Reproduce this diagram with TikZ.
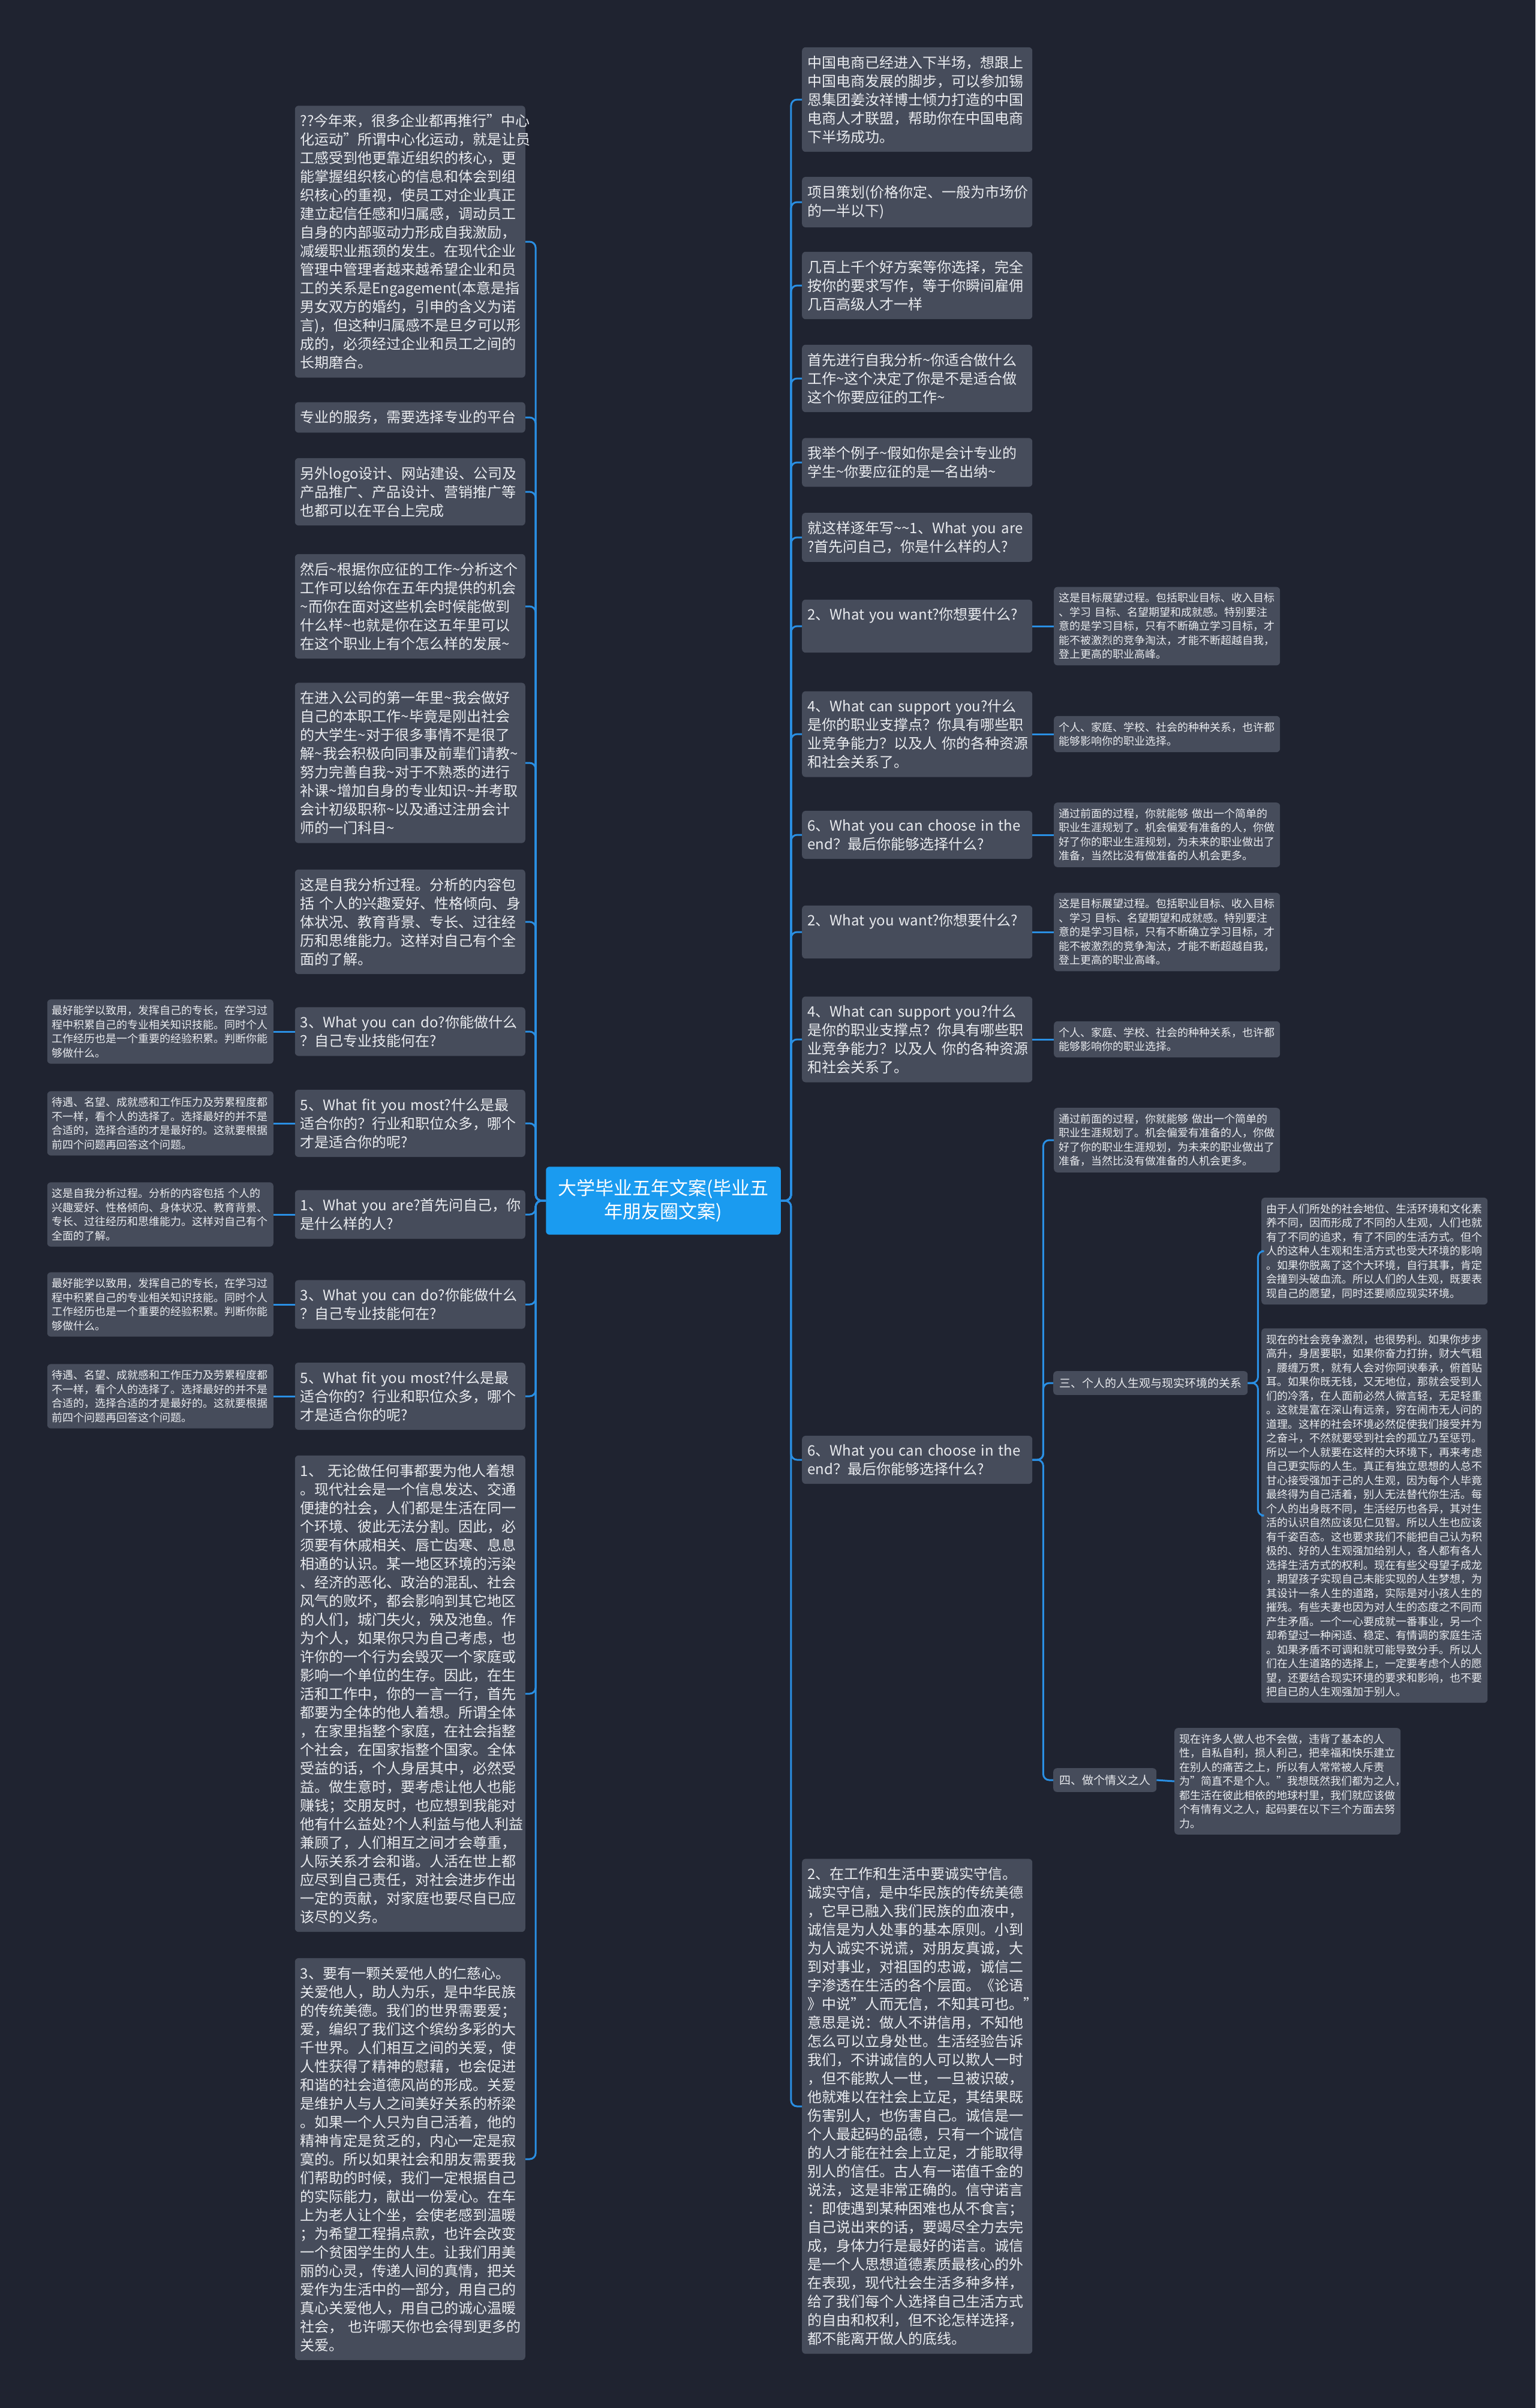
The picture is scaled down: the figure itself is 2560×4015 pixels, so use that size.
\documentclass[tikz,border=0pt]{standalone}
\usepackage{fontspec}
\setmainfont{Noto Sans CJK SC}
\definecolor{pagebg}{HTML}{1F2330}
\definecolor{cardgray}{HTML}{464C5B}
\definecolor{cardtext}{HTML}{E9EBEF}
\definecolor{rootblue}{HTML}{1A9BF0}
\definecolor{linkblue}{HTML}{2A8FE3}
\newcommand{\wavy}{\textasciitilde}
\hyphenpenalty=10000
\exhyphenpenalty=10000

\begin{document}
\begin{tikzpicture}[x=1pt, y=-1pt,
    card/.style={rectangle, rounded corners=6pt, fill=cardgray, text=cardtext, align=left},
    bigcard/.style={card, font=\fontsize{24}{31}\selectfont, text width=366pt, inner xsep=9pt, inner ysep=14pt},
    smallcard/.style={card, font=\fontsize{18}{23.5}\selectfont, text width=361pt, inner xsep=8pt, inner ysep=10pt},
    tagcard/.style={card, font=\fontsize{19}{23}\selectfont, inner xsep=10pt, inner ysep=11pt},
    rootcard/.style={rectangle, rounded corners=6pt, fill=rootblue, text=white, align=center,
        font=\fontsize{31}{39}\selectfont, inner xsep=20pt, inner ysep=21pt},
    link/.style={draw=linkblue, line width=3pt, rounded corners=10pt}]

    % Page
    \useasboundingbox (0,0) rectangle (2560,4015);
    \fill[pagebg] (0,0) rectangle (2560,4015);

    % Root
    \node[rootcard] (root) at (1106,2002) {大学毕业五年文案(毕业五\\年朋友圈文案)};

    % Left branch
    \node[bigcard, anchor=east] (l1) at (876,403) {??今年来，很多企业都再推行"中心\\化运动"所谓中心化运动，就是让员\\工感受到他更靠近组织的核心，更\\能掌握组织核心的信息和体会到组\\织核心的重视，使员工对企业真正\\建立起信任感和归属感，调动员工\\自身的内部驱动力形成自我激励，\\减缓职业瓶颈的发生。在现代企业\\管理中管理者越来越希望企业和员\\工的关系是Engagement(本意是指\\男女双方的婚约，引申的含义为诺\\言)，但这种归属感不是旦夕可以形\\成的，必须经过企业和员工之间的\\长期磨合。};
    \node[bigcard, anchor=east] (l2) at (876,696) {专业的服务，需要选择专业的平台};
    \node[bigcard, anchor=east] (l3) at (876,820) {另外logo设计、网站建设、公司及\\产品推广、产品设计、营销推广等\\也都可以在平台上完成};
    \node[bigcard, anchor=east] (l4) at (876,1011) {然后\wavy{}根据你应征的工作\wavy{}分析这个\\工作可以给你在五年内提供的机会\\\wavy{}而你在面对这些机会时候能做到\\什么样\wavy{}也就是你在这五年里可以\\在这个职业上有个怎么样的发展\wavy{}};
    \node[bigcard, anchor=east] (l5) at (876,1272) {在进入公司的第一年里\wavy{}我会做好\\自己的本职工作\wavy{}毕竟是刚出社会\\的大学生\wavy{}对于很多事情不是很了\\解\wavy{}我会积极向同事及前辈们请教\wavy{}\\努力完善自我\wavy{}对于不熟悉的进行\\补课\wavy{}增加自身的专业知识\wavy{}并考取\\会计初级职称\wavy{}以及通过注册会计\\师的一门科目\wavy{}};
    \node[bigcard, anchor=east] (l6) at (876,1537) {这是自我分析过程。分析的内容包\\括~个人的兴趣爱好、性格倾向、身\\体状况、教育背景、专长、过往经\\历和思维能力。这样对自己有个全\\面的了解。};
    \node[bigcard, anchor=east] (l7) at (876,1720) {3、What~you~can~do?你能做什么\\？自己专业技能何在?};
    \node[bigcard, anchor=east] (l8) at (876,1873) {5、What~fit~you~most?什么是最\\适合你的？行业和职位众多，哪个\\才是适合你的呢?};
    \node[bigcard, anchor=east] (l9) at (876,2025) {1、What~you~are?首先问自己，你\\是什么样的人?};
    \node[bigcard, anchor=east] (l10) at (876,2175) {3、What~you~can~do?你能做什么\\？自己专业技能何在?};
    \node[bigcard, anchor=east] (l11) at (876,2328) {5、What~fit~you~most?什么是最\\适合你的？行业和职位众多，哪个\\才是适合你的呢?};
    \node[bigcard, anchor=east] (l12) at (876,2824) {1、~无论做任何事都要为他人着想\\。现代社会是一个信息发达、交通\\便捷的社会，人们都是生活在同一\\个环境、彼此无法分割。因此，必\\须要有休戚相关、唇亡齿寒、息息\\相通的认识。某一地区环境的污染\\、经济的恶化、政治的混乱、社会\\风气的败坏，都会影响到其它地区\\的人们，城门失火，殃及池鱼。作\\为个人，如果你只为自己考虑，也\\许你的一个行为会毁灭一个家庭或\\影响一个单位的生存。因此，在生\\活和工作中，你的一言一行，首先\\都要为全体的他人着想。所谓全体\\，在家里指整个家庭，在社会指整\\个社会，在国家指整个国家。全体\\受益的话，个人身居其中，必然受\\益。做生意时，要考虑让他人也能\\赚钱；交朋友时，也应想到我能对\\他有什么益处?个人利益与他人利益\\兼顾了，人们相互之间才会尊重，\\人际关系才会和谐。人活在世上都\\应尽到自己责任，对社会进步作出\\一定的贡献，对家庭也要尽自已应\\该尽的义务。};
    \node[bigcard, anchor=east] (l13) at (876,3600) {3、要有一颗关爱他人的仁慈心。\\关爱他人，助人为乐，是中华民族\\的传统美德。我们的世界需要爱；\\爱，编织了我们这个缤纷多彩的大\\千世界。人们相互之间的关爱，使\\人性获得了精神的慰藉，也会促进\\和谐的社会道德风尚的形成。关爱\\是维护人与人之间美好关系的桥梁\\。如果一个人只为自己活着，他的\\精神肯定是贫乏的，内心一定是寂\\寞的。所以如果社会和朋友需要我\\们帮助的时候，我们一定根据自己\\的实际能力，献出一份爱心。在车\\上为老人让个坐，会使老感到温暖\\；为希望工程捐点款，也许会改变\\一个贫困学生的人生。让我们用美\\丽的心灵，传递人间的真情，把关\\爱作为生活中的一部分，用自己的\\真心关爱他人，用自己的诚心温暖\\社会，~也许哪天你也会得到更多的\\关爱。};

    % Left leaves
    \node[smallcard, anchor=east] (lc7) at (456,1720) {最好能学以致用，发挥自己的专长，在学习过\\程中积累自己的专业相关知识技能。同时个人\\工作经历也是一个重要的经验积累。判断你能\\够做什么。};
    \node[smallcard, anchor=east] (lc8) at (456,1873) {待遇、名望、成就感和工作压力及劳累程度都\\不一样，看个人的选择了。选择最好的并不是\\合适的，选择合适的才是最好的。这就要根据\\前四个问题再回答这个问题。};
    \node[smallcard, anchor=east] (lc9) at (456,2025) {这是自我分析过程。分析的内容包括~个人的\\兴趣爱好、性格倾向、身体状况、教育背景、\\专长、过往经历和思维能力。这样对自己有个\\全面的了解。};
    \node[smallcard, anchor=east] (lc10) at (456,2175) {最好能学以致用，发挥自己的专长，在学习过\\程中积累自己的专业相关知识技能。同时个人\\工作经历也是一个重要的经验积累。判断你能\\够做什么。};
    \node[smallcard, anchor=east] (lc11) at (456,2328) {待遇、名望、成就感和工作压力及劳累程度都\\不一样，看个人的选择了。选择最好的并不是\\合适的，选择合适的才是最好的。这就要根据\\前四个问题再回答这个问题。};

    % Right branch
    \node[bigcard, anchor=west] (r1) at (1337,166) {中国电商已经进入下半场，想跟上\\中国电商发展的脚步，可以参加锡\\恩集团姜汝祥博士倾力打造的中国\\电商人才联盟，帮助你在中国电商\\下半场成功。};
    \node[bigcard, anchor=west] (r2) at (1337,337) {项目策划(价格你定、一般为市场价\\的一半以下)};
    \node[bigcard, anchor=west] (r3) at (1337,476) {几百上千个好方案等你选择，完全\\按你的要求写作，等于你瞬间雇佣\\几百高级人才一样};
    \node[bigcard, anchor=west] (r4) at (1337,631) {首先进行自我分析\wavy{}你适合做什么\\工作\wavy{}这个决定了你是不是适合做\\这个你要应征的工作\wavy{}};
    \node[bigcard, anchor=west] (r5) at (1337,771) {我举个例子\wavy{}假如你是会计专业的\\学生\wavy{}你要应征的是一名出纳\wavy{}};
    \node[bigcard, anchor=west] (r6) at (1337,896) {就这样逐年写\wavy\wavy{}1、What~you~are\\?首先问自己，你是什么样的人?};
    \node[bigcard, anchor=west] (r7) at (1337,1044) {2、What~you~want?你想要什么?\\\strut};
    \node[bigcard, anchor=west] (r8) at (1337,1224) {4、What~can~support~you?什么\\是你的职业支撑点？你具有哪些职\\业竞争能力？以及人~你的各种资源\\和社会关系了。};
    \node[bigcard, anchor=west] (r9) at (1337,1392) {6、What~you~can~choose~in~the\\end？最后你能够选择什么?};
    \node[bigcard, anchor=west] (r10) at (1337,1554) {2、What~you~want?你想要什么?\\\strut};
    \node[bigcard, anchor=west] (r11) at (1337,1733) {4、What~can~support~you?什么\\是你的职业支撑点？你具有哪些职\\业竞争能力？以及人~你的各种资源\\和社会关系了。};
    \node[bigcard, anchor=west] (r12) at (1337,2434) {6、What~you~can~choose~in~the\\end？最后你能够选择什么?};
    \node[bigcard, anchor=west] (r13) at (1337,3512) {2、在工作和生活中要诚实守信。\\诚实守信，是中华民族的传统美德\\，它早已融入我们民族的血液中，\\诚信是为人处事的基本原则。小到\\为人诚实不说谎，对朋友真诚，大\\到对事业，对祖国的忠诚，诚信二\\字渗透在生活的各个层面。《论语\\》中说"人而无信，不知其可也。"\\意思是说：做人不讲信用，不知他\\怎么可以立身处世。生活经验告诉\\我们，不讲诚信的人可以欺人一时\\，但不能欺人一世，一旦被识破，\\他就难以在社会上立足，其结果既\\伤害别人，也伤害自己。诚信是一\\个人最起码的品德，只有一个诚信\\的人才能在社会上立足，才能取得\\别人的信任。古人有一诺值千金的\\说法，这是非常正确的。信守诺言\\：即使遇到某种困难也从不食言；\\自己说出来的话，要竭尽全力去完\\成，身体力行是最好的诺言。诚信\\是一个人思想道德素质最核心的外\\在表现，现代社会生活多种多样，\\给了我们每个人选择自己生活方式\\的自由和权利，但不论怎样选择，\\都不能离开做人的底线。};

    % Right leaves
    \node[smallcard, anchor=west] (rc7) at (1757,1044) {这是目标展望过程。包括职业目标、收入目标\\、学习~目标、名望期望和成就感。特别要注\\意的是学习目标，只有不断确立学习目标，才\\能不被激烈的竞争淘汰，才能不断超越自我，\\登上更高的职业高峰。};
    \node[smallcard, anchor=west] (rc8) at (1757,1224) {个人、家庭、学校、社会的种种关系，也许都\\能够影响你的职业选择。};
    \node[smallcard, anchor=west] (rc9) at (1757,1392) {通过前面的过程，你就能够~做出一个简单的\\职业生涯规划了。机会偏爱有准备的人，你做\\好了你的职业生涯规划，为未来的职业做出了\\准备，当然比没有做准备的人机会更多。};
    \node[smallcard, anchor=west] (rc10) at (1757,1554) {这是目标展望过程。包括职业目标、收入目标\\、学习~目标、名望期望和成就感。特别要注\\意的是学习目标，只有不断确立学习目标，才\\能不被激烈的竞争淘汰，才能不断超越自我，\\登上更高的职业高峰。};
    \node[smallcard, anchor=west] (rc11) at (1757,1733) {个人、家庭、学校、社会的种种关系，也许都\\能够影响你的职业选择。};
    \node[smallcard, anchor=west] (rc12a) at (1757,1901) {通过前面的过程，你就能够~做出一个简单的\\职业生涯规划了。机会偏爱有准备的人，你做\\好了你的职业生涯规划，为未来的职业做出了\\准备，当然比没有做准备的人机会更多。};
    \node[tagcard, anchor=west] (rc12b) at (1756,2306) {三、个人的人生观与现实环境的关系};
    \node[tagcard, anchor=west] (rc12c) at (1756,2968) {四、做个情义之人};
    \node[smallcard, anchor=west] (rc12ba) at (2103,2086) {由于人们所处的社会地位、生活环境和文化素\\养不同，因而形成了不同的人生观，人们也就\\有了不同的追求，有了不同的生活方式。但个\\人的这种人生观和生活方式也受大环境的影响\\。如果你脱离了这个大环境，自行其事，肯定\\会撞到头破血流。所以人们的人生观，既要表\\现自己的愿望，同时还要顺应现实环境。};
    \node[smallcard, anchor=west] (rc12bb) at (2103,2527) {现在的社会竞争激烈，也很势利。如果你步步\\高升，身居要职，如果你奋力打拚，财大气粗\\，腰缠万贯，就有人会对你阿谀奉承，俯首贴\\耳。如果你既无钱，又无地位，那就会受到人\\们的冷落，在人面前必然人微言轻，无足轻重\\。这就是富在深山有远亲，穷在闹市无人问的\\道理。这样的社会环境必然促使我们接受并为\\之奋斗，不然就要受到社会的孤立乃至惩罚。\\所以一个人就要在这样的大环境下，再来考虑\\自己更实际的人生。真正有独立思想的人总不\\甘心接受强加于己的人生观，因为每个人毕竟\\最终得为自己活着，别人无法替代你生活。每\\个人的出身既不同，生活经历也各异，其对生\\活的认识自然应该见仁见智。所以人生也应该\\有千姿百态。这也要求我们不能把自己认为积\\极的、好的人生观强加给别人，各人都有各人\\选择生活方式的权利。现在有些父母望子成龙\\，期望孩子实现自己未能实现的人生梦想，为\\其设计一条人生的道路，实际是对小孩人生的\\摧残。有些夫妻也因为对人生的态度之不同而\\产生矛盾。一个一心要成就一番事业，另一个\\却希望过一种闲适、稳定、有情调的家庭生活\\。如果矛盾不可调和就可能导致分手。所以人\\们在人生道路的选择上，一定要考虑个人的愿\\望，还要结合现实环境的要求和影响，也不要\\把自已的人生观强加于别人。};
    \node[smallcard, anchor=west] (rc12ca) at (1958,2970) {现在许多人做人也不会做，违背了基本的人\\性，自私自利，损人利己，把幸福和快乐建立\\在别人的痛苦之上，所以有人常常被人斥责\\为"简直不是个人。"我想既然我们都为之人，\\都生活在彼此相依的地球村里，我们就应该做\\个有情有义之人，起码要在以下三个方面去努\\力。};

    % Links
    \foreach \n in {l1,l2,l3,l4,l5,l6,l7,l8,l9,l10,l11,l12,l13}
        \draw[link] (root.west) -- ++(-17,0) |- (\n.east);
    \foreach \n in {r1,r2,r3,r4,r5,r6,r7,r8,r9,r10,r11,r12,r13}
        \draw[link] (root.east) -- ++(17,0) |- (\n.west);
    \foreach \n in {7,8,9,10,11} {
        \draw[link] (l\n.west) -- (lc\n.east);
        \draw[link] (r\n.east) -- (rc\n.west);
    }
    \foreach \n in {rc12a,rc12b,rc12c}
        \draw[link] (r12.east) -- ++(18,0) |- (\n.west);
    \foreach \n in {rc12ba,rc12bb}
        \draw[link] (rc12b.east) -- ++(17,0) |- (\n.west);
    \draw[link] (rc12c.east) -- (rc12ca.west);
\end{tikzpicture}
\end{document}
